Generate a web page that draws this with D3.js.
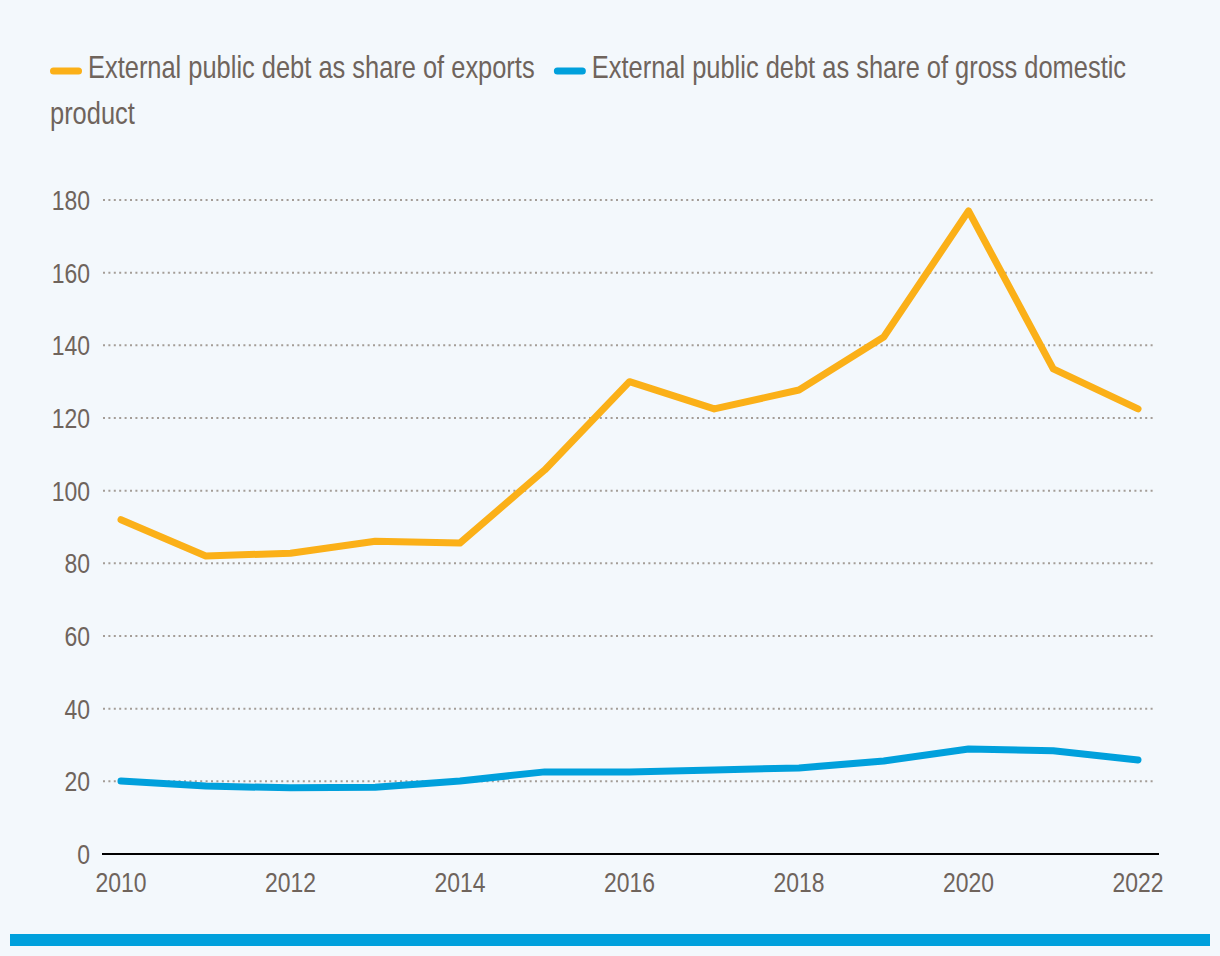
<!DOCTYPE html>
<html>
<head>
<meta charset="utf-8">
<script src="https://cdn.jsdelivr.net/npm/d3@7"></script>
<style>
  html, body { margin: 0; padding: 0; background: #f3f8fc; }
  svg { display: block; }
  text { font-family: "Liberation Sans", Arial, sans-serif; fill: #6f645c; }
</style>
</head>
<body>
<svg id="chart" width="1220" height="956"></svg>
<script>
const years = [2010, 2011, 2012, 2013, 2014, 2015, 2016, 2017, 2018, 2019, 2020, 2021, 2022];
const debtToExports = [92, 82, 82.8, 86.1, 85.6, 105.7, 130, 122.5, 127.7, 142.3, 177, 133.5, 122.5];
const debtToGdp = [20.1, 18.7, 18.2, 18.4, 20.1, 22.6, 22.6, 23.1, 23.7, 25.6, 28.9, 28.4, 25.9];
const seriesNames = ["External public debt as share of exports", "External public debt as share of gross domestic product"];
const seriesColors = ["#fbb018", "#00a0dc"];
const yTicks = [0, 20, 40, 60, 80, 100, 120, 140, 160, 180];
const xTicks = [2010, 2012, 2014, 2016, 2018, 2020, 2022];

const NARROW = 0.82;
const LEG_NARROW = 0.795;
const svg = d3.select("#chart");
svg.append("rect").attr("width", 1220).attr("height", 956).attr("fill", "#f3f8fc");

const x = d3.scaleLinear().domain([2010, 2022]).range([121, 1138]);
const y = d3.scaleLinear().domain([0, 180]).range([854, 200]);

function narrowText(sel, px, py) {
  return sel.attr("transform", (d, i) => `translate(${px(d, i)},${py(d, i)}) scale(${NARROW},1)`);
}

// gridlines
svg.append("g").selectAll("line").data(yTicks.filter(d => d > 0)).join("line")
  .attr("x1", 103).attr("x2", 1156)
  .attr("y1", d => y(d)).attr("y2", d => y(d))
  .attr("stroke", "#a49d97").attr("stroke-width", 2)
  .attr("stroke-dasharray", "2,3.4");

// y tick labels
narrowText(svg.append("g").selectAll("text").data(yTicks).join("text"), () => 90, d => y(d))
  .attr("dy", "0.36em")
  .attr("text-anchor", "end")
  .attr("font-size", 28)
  .text(d => d);

// x axis line
svg.append("line").attr("x1", 102).attr("x2", 1159).attr("y1", 854).attr("y2", 854)
  .attr("stroke", "#000").attr("stroke-width", 2);

// x tick labels
narrowText(svg.append("g").selectAll("text").data(xTicks).join("text"), d => x(d), () => 892)
  .attr("text-anchor", "middle")
  .attr("font-size", 28)
  .text(d => d);

// lines
const line = d3.line().x((d, i) => x(years[i])).y(d => y(d));
[debtToExports, debtToGdp].forEach((vals, k) => {
  svg.append("path").datum(vals)
    .attr("d", line)
    .attr("fill", "none")
    .attr("stroke", seriesColors[k])
    .attr("stroke-width", 7)
    .attr("stroke-linejoin", "round")
    .attr("stroke-linecap", "round");
});

// legend with wrapping
const legendFont = 32;
const lg = svg.append("g");
const measure = lg.append("text").attr("font-size", legendFont).attr("visibility", "hidden");
function tw(s) { measure.text(s); return measure.node().getComputedTextLength() * LEG_NARROW; }
function addText(tx, ty, s) {
  lg.append("text").attr("transform", `translate(${tx},${ty}) scale(${LEG_NARROW},1)`)
    .attr("font-size", legendFont).text(s);
}
let cx = 50, base = 78;
const lineH = 46, maxX = 1170, swLen = 32, swGap = 6, itemGap = 19;
seriesNames.forEach((name, k) => {
  if (k > 0) cx += itemGap;
  const words = name.split(" ");
  const firstW = tw(words[0]);
  if (cx + swLen + swGap + firstW > maxX) { cx = 50; base += lineH; }
  lg.append("line")
    .attr("x1", cx + 3.5).attr("x2", cx + swLen - 3.5)
    .attr("y1", base - 7).attr("y2", base - 7)
    .attr("stroke", seriesColors[k]).attr("stroke-width", 7)
    .attr("stroke-linecap", "round");
  cx += swLen + swGap;
  let lineStart = cx, cur = "";
  words.forEach((w) => {
    const cand = cur ? cur + " " + w : w;
    if (cur && lineStart + tw(cand) > maxX) {
      addText(lineStart, base, cur);
      base += lineH; lineStart = 50; cur = w;
    } else cur = cand;
  });
  addText(lineStart, base, cur);
  cx = lineStart + tw(cur);
});
measure.remove();

// bottom bar
svg.append("rect").attr("x", 10).attr("y", 934).attr("width", 1200).attr("height", 12).attr("fill", "#00a0dc");
</script>
</body>
</html>
